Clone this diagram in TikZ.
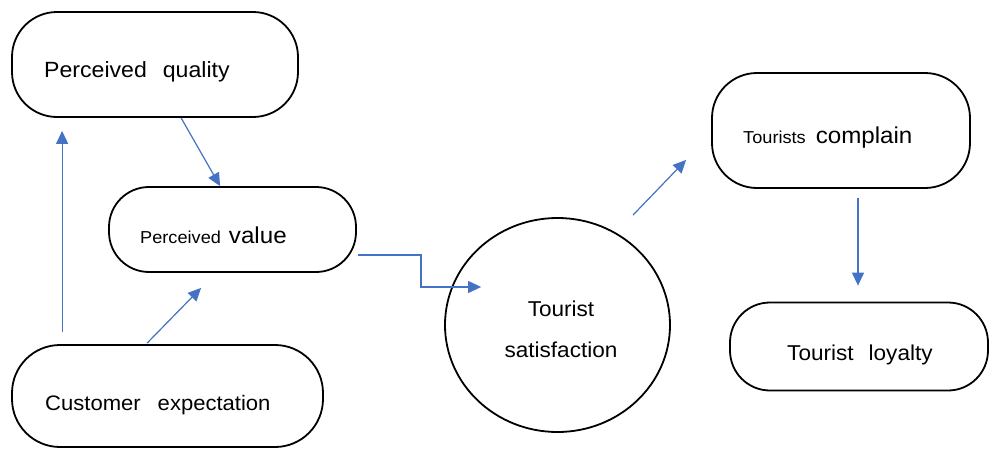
\documentclass[tikz,border=0pt]{standalone}
\usepackage{fontspec}
\setmainfont{Liberation Sans}[FakeStretch=1.05]
\usetikzlibrary{arrows.meta,calc,shapes.geometric}
\definecolor{arrblue}{HTML}{4472C4}
\newcommand{\myfs}[1]{\fontsize{#1}{#1}\selectfont}
\tikzset{
  box/.style={draw=black, line width=1.8pt, rounded corners=#1, inner sep=0pt},
  lbl/.style={anchor=base west, inner sep=0pt, text=black},
  clbl/.style={anchor=base, inner sep=0pt, text=black},
  arr/.style={draw=arrblue, line width=1.2pt, -{Triangle[length=13pt,width=12pt]}},
}
\begin{document}
\begin{tikzpicture}[x=1pt,y=-1pt]
\fill[white] (0,0) rectangle (989,450);
\useasboundingbox (0,0) rectangle (989,450);

% boxes
\node[box=45pt, minimum width=286pt, minimum height=105pt] (pq) at (155,64.5) {};
\node[box=40pt, minimum width=247pt, minimum height=85pt] (pv) at (232.5,229.5) {};
\node[box=48pt, minimum width=311pt, minimum height=102pt] (ce) at (167.5,396) {};
\node[draw=black, line width=1.8pt, ellipse, inner sep=0pt, minimum width=225pt, minimum height=214pt] (ts) at (557.5,325) {};
\node[box=45pt, minimum width=258pt, minimum height=115pt] (tc) at (841,130.5) {};
\node[box=40pt, minimum width=258pt, minimum height=88pt] (tl) at (859,346.5) {};

% labels
\node[lbl] (pqt) at (44,77) {\myfs{22}Perceived\hspace{16pt}quality};
\node[lbl] (pvt) at (140,243) {\myfs{17.3}Perceived\hspace{8pt}\myfs{23}value};
\node[lbl] (cet) at (45,410) {\myfs{21}Customer\hspace{17pt}expectation};
\node[clbl] (ts1) at (561,316) {\myfs{21.5}Tourist};
\node[clbl] (ts2) at (561,357) {\myfs{21.5}satisfaction};
\node[lbl] (tct) at (743,143) {\myfs{17.3}Tourists\hspace{10pt}\myfs{23}complain};
\node[lbl] (tlt) at (787,360) {\myfs{21.5}Tourist\hspace{15pt}loyalty};

% connectors
\draw[arr] ($(ce.north west)+(51,-12)$) -- ($(pq.south west)+(51,13)$);
\draw[arr] ($(pq.south west)+(170,0)$) -- ($(pv.north west)+(112,0)$);
\draw[arr] ($(ce.north west)+(136,-1)$) -- ($(pv.south west)+(93,15)$);
\draw[arr] ($(pv.south east)+(1,-18)$) -- ++(63,0) |- ($(ts.west)+(37,-38)$);
\draw[arr] ($(ts.north)+(75.5,-2)$) -- ($(tc.south west)+(-25,-29)$);
\draw[arr] ($(tc.south)+(17,9)$) -- ($(tl.north)+(-1,-16)$);
\end{tikzpicture}
\end{document}
